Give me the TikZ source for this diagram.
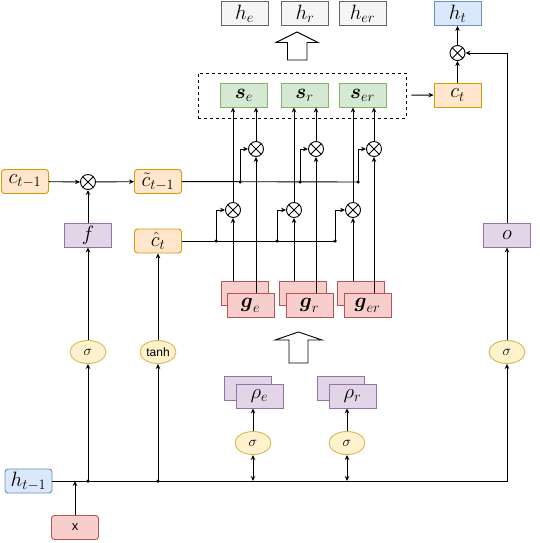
\documentclass[tikz,border=0pt]{standalone}
\usepackage{amsmath}
\usepackage{amssymb}
\usepackage{fontspec}
\newfontfamily\helv{Liberation Sans}
\usetikzlibrary{positioning,arrows.meta,shapes.geometric,calc}
\definecolor{greenF}{HTML}{D5E8D4}
\definecolor{greenD}{HTML}{82B366}
\definecolor{orangeF}{HTML}{FFE6CC}
\definecolor{orangeD}{HTML}{D79B00}
\definecolor{purpleF}{HTML}{E1D5E7}
\definecolor{purpleD}{HTML}{9673A6}
\definecolor{redF}{HTML}{F8CECC}
\definecolor{redD}{HTML}{B85450}
\definecolor{blueF}{HTML}{DAE8FC}
\definecolor{blueD}{HTML}{6C8EBF}
\definecolor{greyF}{HTML}{F5F5F5}
\definecolor{greyD}{HTML}{666666}
\definecolor{yellowF}{HTML}{FFF2CC}
\definecolor{yellowD}{HTML}{D6B656}

\begin{document}
\begin{tikzpicture}[x=1pt,y=-1pt,line width=0.9pt,
  n/.style={draw,minimum width=47pt,minimum height=24pt,inner sep=0pt,font=\fontsize{20}{24}\selectfont},
  rnd/.style={n,rounded corners=3pt},
  grey/.style={draw=greyD,fill=greyF},
  blue/.style={draw=blueD,fill=blueF},
  orange/.style={draw=orangeD,fill=orangeF},
  purple/.style={draw=purpleD,fill=purpleF},
  red/.style={draw=redD,fill=redF},
  green/.style={draw=greenD,fill=greenF},
  act/.style={ellipse,draw=yellowD,fill=yellowF,minimum width=36pt,minimum height=23pt,inner sep=0pt,font=\fontsize{15}{18}\selectfont},
  mul/.style={circle,draw,fill=white,minimum size=15pt,inner sep=0pt,
    path picture={\draw (path picture bounding box.south west) -- (path picture bounding box.north east)
      (path picture bounding box.north west) -- (path picture bounding box.south east);}},
  dot/.style={circle,fill,inner sep=0pt,minimum size=3.5pt},
  ar/.style={-{Stealth[length=5pt,width=4.5pt]}},
  dar/.style={{Stealth[length=5pt,width=4.5pt]}-{Stealth[length=5pt,width=4.5pt]}}]
\useasboundingbox (0,0) rectangle (540,543);
\node[n,grey] (he) at (244.5,13.5) {$h_e$};
\node[n,grey] (hr) at (305,13.5) {$h_r$};
\node[n,grey] (her) at (362.5,13.5) {$h_{er}$};
\node[n,blue] (ht) at (457.5,13.5) {$h_t$};
\node[mul] (mo) at (457.5,53) {};
\node[n,orange] (ct) at (457.5,95) {$c_t$};
\node[draw,dashed,minimum width=208pt,minimum height=45pt] (grp) at (302,95.5) {};
\node[n,green] (se) at (244,95) {$\boldsymbol{s}_e$};
\node[n,green] (sr) at (304.5,95) {$\boldsymbol{s}_r$};
\node[n,green] (ser) at (362.5,95) {$\boldsymbol{s}_{er}$};
\draw (297,32) -- (318,42.5) -- (307,42.5) -- (307,60) -- (287.5,60) -- (287.5,42.5) -- (276,42.5) -- cycle;

\node[rnd,orange] (cprev) at (25,181.5) {$c_{t-1}$};
\node[mul] (mf) at (88,182) {};
\node[rnd,orange] (ctil) at (158,181.5) {$\tilde{c}_{t-1}$};
\node[n,purple] (f) at (88,235) {$f$};
\node[rnd,orange] (chat) at (158,241) {$\hat{c}_t$};
\node[n,purple] (o) at (507,235) {$o$};
\node[act] (sf) at (88,352) {$\sigma$};
\node[act] (th) at (158,352) {\helv\fontsize{12}{14}\selectfont tanh};
\node[act] (so) at (507,352) {$\sigma$};

\node[mul] (u1) at (256,149) {};
\node[mul] (u2) at (316,149) {};
\node[mul] (u3) at (374,149) {};
\node[mul] (m1) at (233,210) {};
\node[mul] (m2) at (294,210) {};
\node[mul] (m3) at (353,210) {};
\coordinate (k1) at (240,182);
\coordinate (k2) at (300,182);
\coordinate (k3) at (358,182);
\coordinate (j1) at (216,241);
\coordinate (j2) at (277,241);
\coordinate (j3) at (335,241);

\node[n,red] (geb) at (244.5,293.5) {};
\node[n,red] (ge) at ($(geb)+(6,12)$) {$\boldsymbol{g}_e$};
\node[n,red] (grb) at (302.5,293.5) {};
\node[n,red] (gr) at ($(grb)+(7,12)$) {$\boldsymbol{g}_r$};
\node[n,red] (gerb) at (360.5,293.5) {};
\node[n,red] (ger) at ($(gerb)+(7,12)$) {$\boldsymbol{g}_{er}$};
\draw (298.5,332) -- (322,340) -- (308,340) -- (308,363) -- (289,363) -- (289,340) -- (275,340) -- cycle;

\node[n,purple] (rhoeb) at (247.5,388.5) {};
\node[n,purple] (rhoe) at ($(rhoeb)+(12,7.5)$) {$\rho_e$};
\node[n,purple] (rhorb) at (340.5,388.5) {};
\node[n,purple] (rhor) at ($(rhorb)+(12,7.5)$) {$\rho_r$};
\node[act] (sre) at (253,443) {$\sigma$};
\node[act] (srr) at (347,443) {$\sigma$};

\node[rnd,blue] (hprev) at (28.5,481) {$h_{t-1}$};
\node[rnd,red] (x) at (75,527.5) {\helv\fontsize{13}{15}\selectfont x};

\draw[ar] (cprev) -- (mf);
\draw[ar] (mf) -- (ctil);
\draw[ar] (f) -- (mf);
\draw[ar] (sf) -- (f);
\draw[ar] (th) -- (chat);
\draw[ar] (hprev) -| (so);
\draw[ar] (x) -- (x |- hprev);
\draw[ar] (sf |- hprev) node[dot]{} -- (sf);
\draw[ar] (th |- hprev) node[dot]{} -- (th);
\draw[dar] (sre |- hprev) -- (sre);
\draw[dar] (srr |- hprev) -- (srr);
\draw[ar] (sre) -- (sre |- rhoe.south);
\draw[ar] (srr) -- (srr |- rhor.south);
\draw[ar] (so) -- (o);
\draw[ar] (o) |- (mo);
\draw[ar] (ct) -- (mo);
\draw[ar] (mo) -- (ht);
\draw[ar,shorten <=5pt] (grp) -- (ct);

\draw (ctil) -- (k3);
\draw (chat) -- (j3);
\draw[ar] (k1) node[dot]{} |- (u1);
\draw[ar] (k2) node[dot]{} |- (u2);
\draw[ar] (k3) node[dot]{} |- (u3);
\draw[ar] (j1) node[dot]{} |- (m1);
\draw[ar] (j2) node[dot]{} |- (m2);
\draw[ar] (j3) node[dot]{} |- (m3);
\draw[ar] (m1 |- geb.north) -- (m1);
\draw[ar] (m2 |- grb.north) -- (m2);
\draw[ar] (m3 |- gerb.north) -- (m3);
\draw[ar] (u1 |- ge.north) -- (u1);
\draw[ar] (u2 |- gr.north) -- (u2);
\draw[ar] (u3 |- ger.north) -- (u3);
\draw[ar] (m1) -- (m1 |- se.south);
\draw[ar] (m2) -- (m2 |- sr.south);
\draw[ar] (m3) -- (m3 |- ser.south);
\draw[ar] (u1) -- (u1 |- se.south);
\draw[ar] (u2) -- (u2 |- sr.south);
\draw[ar] (u3) -- (u3 |- ser.south);
\end{tikzpicture}
\end{document}
